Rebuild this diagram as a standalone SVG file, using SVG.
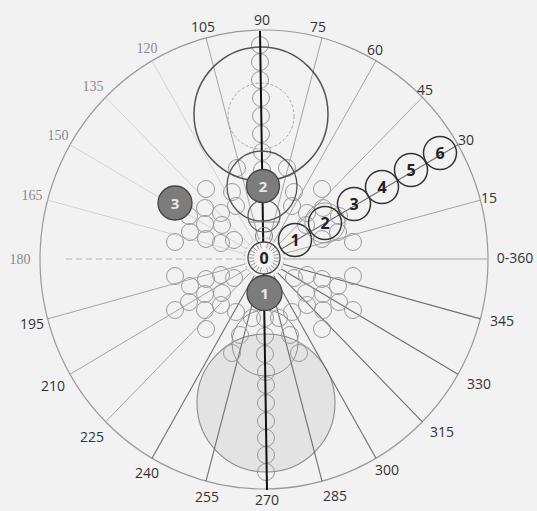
<svg xmlns="http://www.w3.org/2000/svg" width="537" height="511" viewBox="0 0 537 511">
<style>
.lbl{font-family:"Open Sans","Noto Sans","Liberation Sans",sans-serif;font-size:14px;fill:#333;text-anchor:middle}
.lbs{font-family:"Liberation Serif","DejaVu Serif",serif;font-size:14px;fill:#8a8a8a;text-anchor:middle}
.l1{stroke:#d2d2d2;stroke-width:1;fill:none}
.l2{stroke:#a5a5a5;stroke-width:1;fill:none}
.l3{stroke:#6e6e6e;stroke-width:1.1;fill:none}
.sm{fill:none;stroke:#9a9a9a;stroke-width:1}
.seq{fill:none;stroke:#333;stroke-width:1.5}
.num{font-family:"Open Sans","Noto Sans","Liberation Sans",sans-serif;font-size:16px;font-weight:bold;fill:#222;text-anchor:middle}
.gfill{fill:#7c7c7c;stroke:#444;stroke-width:1.3}
.wnum{font-family:"Open Sans","Noto Sans","Liberation Sans",sans-serif;font-size:15px;font-weight:bold;fill:#e8e8e8;text-anchor:middle}
</style>
<rect width="537" height="511" fill="#f2f2f2"/>

<g id="frame">
  <ellipse cx="264" cy="259.5" rx="224" ry="229.5" fill="none" stroke="#9a9a9a" stroke-width="1.2"/>
  <circle id="bottom-big-fill" cx="266" cy="403" r="69" fill="#e3e3e3" stroke="#8a8a8a" stroke-width="1.1"/>
</g>

<g id="connectors">
  <line class="l2" x1="284" y1="259" x2="488" y2="259"/>
  <line class="l2" x1="283.3" y1="253.8" x2="480.4" y2="200.1"/>
  <line class="l3" x1="281.3" y1="249" x2="458" y2="144.75"/>
  <line class="l2" x1="278.1" y1="244.9" x2="422.4" y2="97.2"/>
  <line class="l2" x1="274" y1="241.7" x2="376" y2="60.7"/>
  <line class="l2" x1="269.2" y1="239.7" x2="322" y2="37.8"/>
  <line class="l2" x1="258.8" y1="239.7" x2="206" y2="37.8"/>
  <line class="l1" x1="254" y1="241.7" x2="152" y2="60.7"/>
  <line class="l1" x1="249.9" y1="244.9" x2="105.6" y2="97.2"/>
  <line class="l1" x1="246.7" y1="249" x2="70" y2="144.75"/>
  <line class="l1" x1="244.7" y1="253.8" x2="47.6" y2="200.1"/>
  <line stroke="#b5b5b5" stroke-width="1" stroke-dasharray="6,4" x1="66" y1="259" x2="244" y2="259"/>
  <line class="l2" x1="244.7" y1="264.2" x2="47.6" y2="318.9"/>
  <line class="l2" x1="246.7" y1="269" x2="70" y2="374.25"/>
  <line class="l2" x1="249.9" y1="273.1" x2="105.6" y2="421.8"/>
  <line class="l3" x1="254" y1="276.3" x2="152" y2="458.3"/>
  <line class="l3" x1="258.8" y1="278.3" x2="206" y2="481.2"/>
  <line class="l3" x1="269.2" y1="278.3" x2="322" y2="481.2"/>
  <line class="l3" x1="274" y1="276.3" x2="376" y2="458.3"/>
  <line class="l3" x1="278.1" y1="273.1" x2="422.4" y2="421.8"/>
  <line class="l3" x1="281.3" y1="269" x2="458" y2="374.25"/>
  <line class="l3" x1="283.3" y1="264.2" x2="480.4" y2="318.9"/>
</g>

<g id="lattice">
  <circle class="sm" cx="234" cy="240" r="8.5"/>
  <circle class="sm" cx="221" cy="243" r="8.5"/>
  <circle class="sm" cx="206" cy="239" r="8.5"/>
  <circle class="sm" cx="190" cy="232" r="8.5"/>
  <circle class="sm" cx="175" cy="242" r="8.5"/>
  <circle class="sm" cx="222" cy="225" r="8.5"/>
  <circle class="sm" cx="205" cy="224" r="8.5"/>
  <circle class="sm" cx="221" cy="213" r="8.5"/>
  <circle class="sm" cx="189" cy="216" r="8.5"/>
  <circle class="sm" cx="205" cy="208" r="8.5"/>
  <circle class="sm" cx="175" cy="208" r="8.5"/>
  <circle class="sm" cx="236" cy="206" r="8.5"/>
  <circle class="sm" cx="206" cy="189" r="8.5"/>
  <circle class="sm" cx="234" cy="278" r="8.5"/>
  <circle class="sm" cx="221" cy="275" r="8.5"/>
  <circle class="sm" cx="206" cy="279" r="8.5"/>
  <circle class="sm" cx="190" cy="286" r="8.5"/>
  <circle class="sm" cx="175" cy="276" r="8.5"/>
  <circle class="sm" cx="222" cy="293" r="8.5"/>
  <circle class="sm" cx="205" cy="294" r="8.5"/>
  <circle class="sm" cx="221" cy="305" r="8.5"/>
  <circle class="sm" cx="189" cy="302" r="8.5"/>
  <circle class="sm" cx="205" cy="310" r="8.5"/>
  <circle class="sm" cx="175" cy="310" r="8.5"/>
  <circle class="sm" cx="236" cy="312" r="8.5"/>
  <circle class="sm" cx="206" cy="329" r="8.5"/>
  <circle class="sm" cx="294" cy="278" r="8.5"/>
  <circle class="sm" cx="307" cy="275" r="8.5"/>
  <circle class="sm" cx="322" cy="279" r="8.5"/>
  <circle class="sm" cx="338" cy="286" r="8.5"/>
  <circle class="sm" cx="353" cy="276" r="8.5"/>
  <circle class="sm" cx="306" cy="293" r="8.5"/>
  <circle class="sm" cx="323" cy="294" r="8.5"/>
  <circle class="sm" cx="307" cy="305" r="8.5"/>
  <circle class="sm" cx="339" cy="302" r="8.5"/>
  <circle class="sm" cx="323" cy="310" r="8.5"/>
  <circle class="sm" cx="353" cy="310" r="8.5"/>
  <circle class="sm" cx="292" cy="312" r="8.5"/>
  <circle class="sm" cx="322" cy="329" r="8.5"/>
  <circle class="sm" cx="322" cy="239" r="8.5"/>
  <circle class="sm" cx="338" cy="232" r="8.5"/>
  <circle class="sm" cx="353" cy="242" r="8.5"/>
  <circle class="sm" cx="306" cy="225" r="8.5"/>
  <circle class="sm" cx="307" cy="213" r="8.5"/>
  <circle class="sm" cx="339" cy="216" r="8.5"/>
  <circle class="sm" cx="323" cy="208" r="8.5"/>
  <circle class="sm" cx="292" cy="206" r="8.5"/>
  <circle class="sm" cx="322" cy="189" r="8.5"/>
  <circle class="sm" cx="237" cy="168" r="8.5"/>
  <circle class="sm" cx="287" cy="168" r="8.5"/>
  <circle class="sm" cx="232" cy="192" r="8.5"/>
  <circle class="sm" cx="294" cy="192" r="8.5"/>
  <circle class="sm" cx="240" cy="335" r="8.5"/>
  <circle class="sm" cx="290" cy="335" r="8.5"/>
  <circle class="sm" cx="252" cy="318" r="8.5"/>
  <circle class="sm" cx="279" cy="318" r="8.5"/>
  <circle class="sm" cx="232" cy="353" r="8.5"/>
  <circle class="sm" cx="299" cy="353" r="8.5"/>
</g>

<g id="top-column">
  <circle cx="261" cy="116" r="33" fill="none" stroke="#a8a8a8" stroke-width="1" stroke-dasharray="3,2"/>
  <circle class="sm" cx="260" cy="45" r="8.5"/>
  <circle class="sm" cx="260" cy="62" r="8.5"/>
  <circle class="sm" cx="260" cy="80" r="8.5"/>
  <circle class="sm" cx="261" cy="98" r="8.5"/>
  <circle class="sm" cx="261" cy="116" r="8.5"/>
  <circle class="sm" cx="261" cy="134" r="8.5"/>
  <circle class="sm" cx="262" cy="152" r="8.5"/>
  <circle class="sm" cx="262" cy="170" r="8.5"/>
</g>

<g id="bottom-column">
  <circle cx="265" cy="343" r="33" fill="none" stroke="#8e8e8e" stroke-width="1"/>
  <circle class="sm" cx="265" cy="318" r="8.5"/>
  <circle class="sm" cx="265" cy="336" r="8.5"/>
  <circle class="sm" cx="265" cy="354" r="8.5"/>
  <circle class="sm" cx="266" cy="372" r="8.5"/>
  <circle class="sm" cx="266" cy="385" r="8.5" stroke="#888"/>
  <circle class="sm" cx="266" cy="403" r="8.5" stroke="#888"/>
  <circle class="sm" cx="266" cy="421" r="8.5" stroke="#888"/>
  <circle class="sm" cx="266" cy="438" r="8.5" stroke="#888"/>
  <circle class="sm" cx="266" cy="455" r="8.5" stroke="#888"/>
  <circle class="sm" cx="266" cy="472" r="8.5" stroke="#888"/>
</g>

<g id="top-big">
  <circle cx="261" cy="114" r="67" fill="none" stroke="#555" stroke-width="1.5"/>
</g>

<g id="axis">
  <line x1="260" y1="31" x2="267" y2="490" stroke="#111" stroke-width="2"/>
</g>

<g id="ring2">
  <circle cx="262" cy="186" r="35" fill="none" stroke="#555" stroke-width="1.3"/>
</g>
<g id="mid-upper">
  <circle cx="264" cy="216" r="16" fill="none" stroke="#555" stroke-width="1.2"/>
  <line x1="248" y1="222" x2="280" y2="222" stroke="#777" stroke-width="0.8"/>
  <circle cx="264" cy="236" r="8.5" fill="none" stroke="#777" stroke-width="1"/>
</g>

<g id="node-0">
  <circle cx="264" cy="258" r="20" fill="none" stroke="#999" stroke-width="0.8" stroke-dasharray="2,2"/>
  <circle cx="264" cy="258" r="16" fill="#f2f2f2" stroke="#444" stroke-width="1.3"/>
  <g stroke="#888" stroke-width="0.8">
    <line x1="274" y1="258" x2="280" y2="258"/><line x1="254" y1="258" x2="248" y2="258"/>
    <line x1="273.7" y1="255.4" x2="279.5" y2="253.9"/><line x1="254.3" y1="255.4" x2="248.5" y2="253.9"/>
    <line x1="273.7" y1="260.6" x2="279.5" y2="262.1"/><line x1="254.3" y1="260.6" x2="248.5" y2="262.1"/>
    <line x1="272.7" y1="253" x2="277.9" y2="250"/><line x1="255.3" y1="253" x2="250.1" y2="250"/>
    <line x1="272.7" y1="263" x2="277.9" y2="266"/><line x1="255.3" y1="263" x2="250.1" y2="266"/>
    <line x1="271.1" y1="250.9" x2="275.3" y2="246.7"/><line x1="256.9" y1="250.9" x2="252.7" y2="246.7"/>
    <line x1="271.1" y1="265.1" x2="275.3" y2="269.3"/><line x1="256.9" y1="265.1" x2="252.7" y2="269.3"/>
    <line x1="269" y1="249.3" x2="272" y2="244.1"/><line x1="259" y1="249.3" x2="256" y2="244.1"/>
    <line x1="269" y1="266.7" x2="272" y2="271.9"/><line x1="259" y1="266.7" x2="256" y2="271.9"/>
    <line x1="266.6" y1="248.3" x2="268.1" y2="242.5"/><line x1="261.4" y1="248.3" x2="259.9" y2="242.5"/>
    <line x1="266.6" y1="267.7" x2="268.1" y2="273.5"/><line x1="261.4" y1="267.7" x2="259.9" y2="273.5"/>
  </g>
  <text class="num" x="264" y="264">0</text>
</g>

<g id="node-g2">
  <circle class="gfill" cx="263" cy="186" r="16.5"/>
  <text class="wnum" x="263" y="191.5">2</text>
</g>
<g id="node-g1">
  <circle class="gfill" cx="264.5" cy="293" r="17.5"/>
  <text class="wnum" x="264.5" y="298.5">1</text>
</g>
<g id="node-g3">
  <circle class="gfill" cx="175" cy="203" r="17"/>
  <text class="wnum" x="175" y="208.5">3</text>
</g>

<g id="node-s1"><circle class="seq" cx="295" cy="240" r="16.5"/><text class="num" x="295" y="246">1</text></g>
<g id="node-s2"><circle class="seq" cx="325" cy="223" r="16.5"/><circle cx="325" cy="223" r="20" fill="none" stroke="#888" stroke-width="0.8"/><text class="num" x="325" y="229">2</text></g>
<g id="node-s3"><circle class="seq" cx="354" cy="204" r="16.5"/><text class="num" x="354" y="210">3</text></g>
<g id="node-s4"><circle class="seq" cx="382" cy="187" r="16.5"/><text class="num" x="382" y="193">4</text></g>
<g id="node-s5"><circle class="seq" cx="411" cy="170" r="16.5"/><text class="num" x="411" y="176">5</text></g>
<g id="node-s6"><circle class="seq" cx="440" cy="153" r="16.5"/><text class="num" x="440" y="159">6</text></g>

<g id="labels">
  <text class="lbl" x="262" y="25">90</text>
  <text class="lbl" x="318" y="32">75</text>
  <text class="lbl" x="375" y="55">60</text>
  <text class="lbl" x="425" y="95">45</text>
  <text class="lbl" x="466" y="145">30</text>
  <text class="lbl" x="489" y="203">15</text>
  <text class="lbl" x="515" y="263">0-360</text>
  <text class="lbl" x="502" y="326">345</text>
  <text class="lbl" x="479" y="389">330</text>
  <text class="lbl" x="442" y="437">315</text>
  <text class="lbl" x="387" y="475">300</text>
  <text class="lbl" x="335" y="501">285</text>
  <text class="lbl" x="267" y="505">270</text>
  <text class="lbl" x="207" y="502">255</text>
  <text class="lbl" x="147" y="478">240</text>
  <text class="lbl" x="92" y="442">225</text>
  <text class="lbl" x="53" y="391">210</text>
  <text class="lbl" x="32" y="329">195</text>
  <text class="lbs" x="20" y="264">180</text>
  <text class="lbs" x="32" y="200">165</text>
  <text class="lbs" x="58" y="140">150</text>
  <text class="lbs" x="93" y="91">135</text>
  <text class="lbs" x="147" y="53">120</text>
  <text class="lbl" x="203" y="32">105</text>
</g>
</svg>
